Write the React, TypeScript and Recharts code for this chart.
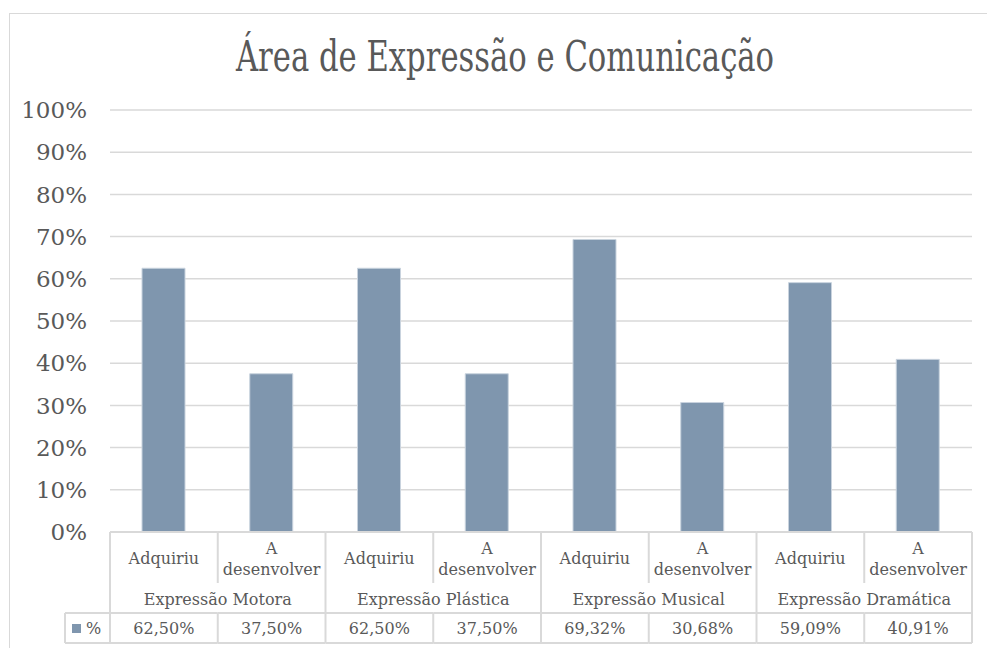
import { Bar, BarChart, CartesianGrid, XAxis, YAxis } from "recharts";

const CATEGORIES = [
  "Adquiriu", "A desenvolver", "Adquiriu", "A desenvolver",
  "Adquiriu", "A desenvolver", "Adquiriu", "A desenvolver",
];
const GROUPS = ["Expressão Motora", "Expressão Plástica", "Expressão Musical", "Expressão Dramática"];
const VALUES = [62.5, 37.5, 62.5, 37.5, 69.32, 30.68, 59.09, 40.91];
const Y_TICKS = [0, 10, 20, 30, 40, 50, 60, 70, 80, 90, 100];
const SERIES_NAME = "%";
const TITLE = "Área de Expressão e Comunicação";

const W = 987;
const H = 648;
const TABLE_H = 116;
const M = { top: 110, right: 15, bottom: 0, left: 10 };
const Y_W = 100;
const FONT = "'DejaVu Serif', serif";
const TEXT = "#595959";
const LINE = "#d9d9d9";
const BAR = "#7f96ae";

const data = CATEGORIES.map((c, i) => ({
  key: `c${i}`,
  label: c,
  group: GROUPS[Math.floor(i / 2)],
  value: VALUES[i],
}));

const pct = (v: number) => `${v.toFixed(2).replace(".", ",")}%`;

const bandW = (W - M.left - Y_W - M.right) / CATEGORIES.length;

function TableTick(props: any) {
  const { x, y, index } = props;
  const d = data[index];
  const l = x - bandW / 2;
  const r = x + bandW / 2;
  const r1 = 51, r2 = 81, r3 = 111;
  const words = d.label.split(" ");
  const font = { fontFamily: FONT, fontSize: 16, fill: TEXT, textAnchor: "middle" as const };
  return (
    <g>
      <line x1={l} x2={r} y1={y} y2={y} stroke={LINE} strokeWidth={2} />
      <line x1={l} x2={r} y1={y + r2} y2={y + r2} stroke={LINE} strokeWidth={2} />
      <line x1={l} x2={r} y1={y + r3} y2={y + r3} stroke={LINE} strokeWidth={2} />
      <line x1={l} x2={l} y1={y} y2={index % 2 === 0 ? y + r3 : y + r1} stroke={LINE} strokeWidth={2} />
      {index % 2 === 1 && <line x1={l} x2={l} y1={y + r2} y2={y + r3} stroke={LINE} strokeWidth={2} />}
      {index === CATEGORIES.length - 1 && (
        <line x1={r} x2={r} y1={y} y2={y + r3} stroke={LINE} strokeWidth={2} />
      )}
      {words.length === 1 ? (
        <text x={x} y={y + 32} {...font}>{d.label}</text>
      ) : (
        <>
          <text x={x} y={y + 22} {...font}>{words[0]}</text>
          <text x={x} y={y + 43} {...font}>{words.slice(1).join(" ")}</text>
        </>
      )}
      {index % 2 === 0 && (
        <text x={r} y={y + 73} {...font}>{d.group}</text>
      )}
      <text x={x} y={y + 102} {...font}>{pct(d.value)}</text>
      {index === 0 && (
        <g>
          <line x1={l - 45} x2={l} y1={y + r2} y2={y + r2} stroke={LINE} strokeWidth={2} />
          <line x1={l - 45} x2={l} y1={y + r3} y2={y + r3} stroke={LINE} strokeWidth={2} />
          <line x1={l - 45} x2={l - 45} y1={y + r2} y2={y + r3} stroke={LINE} strokeWidth={2} />
          <rect x={l - 38} y={y + 92} width={9} height={9} fill={BAR} />
          <text x={l - 24} y={y + 102} fontFamily={FONT} fontSize={16} fill={TEXT}>{SERIES_NAME}</text>
        </g>
      )}
    </g>
  );
}

export default function App() {
  return (
    <div style={{ position: "absolute", left: 0, top: 0, width: W, height: H, overflow: "hidden", background: "#fff" }}>
      <div
        style={{
          position: "absolute",
          left: 9,
          top: 13,
          width: 992,
          height: 660,
          border: `1px solid ${LINE}`,
          boxSizing: "border-box",
        }}
      />
      <div
        style={{
          position: "absolute",
          left: 9,
          width: 992,
          top: 30,
          textAlign: "center",
          fontFamily: FONT,
          fontSize: 42,
          lineHeight: "54px",
          color: TEXT,
          transform: "scaleX(0.73)",
          transformOrigin: "496px 0",
        }}
      >
        {TITLE}
      </div>
      <BarChart width={W} height={H} data={data} margin={M} style={{ position: "absolute", left: 0, top: 0 }}>
        <CartesianGrid stroke={LINE} strokeWidth={1.5} vertical={false} />
        <XAxis
          dataKey="key"
          tick={<TableTick />}
          tickLine={false}
          axisLine={false}
          tickSize={0}
          tickMargin={0}
          interval={0}
          height={TABLE_H}
        />
        <YAxis
          domain={[0, 100]}
          ticks={Y_TICKS}
          tickFormatter={(v) => `${v}%`}
          width={Y_W}
          tickSize={0}
          tickMargin={23}
          tickLine={false}
          axisLine={false}
          tick={{ fontFamily: FONT, fontSize: 23, fill: TEXT }}
        />
        <Bar dataKey="value" name={SERIES_NAME} fill={BAR} stroke="#c9d3de" strokeWidth={1} barSize={43} isAnimationActive={false} />
      </BarChart>
    </div>
  );
}
